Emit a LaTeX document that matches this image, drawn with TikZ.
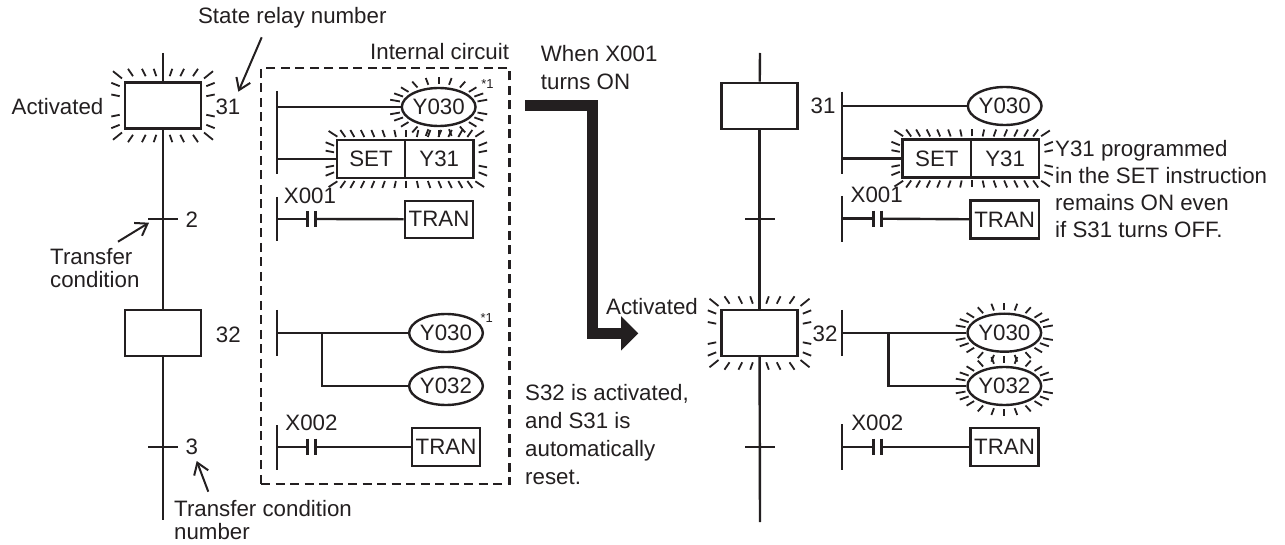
\documentclass[tikz,border=0pt]{standalone}
\usepackage{xcolor}
\usepackage{fontspec}
\setmainfont{Liberation Sans}
\usetikzlibrary{arrows.meta,positioning,calc,shapes.geometric}
\definecolor{inkDark}{RGB}{35,31,32}
\tikzset{
  wire/.style={draw=inkDark,line width=2.4pt},
  ray/.style={draw=inkDark,line width=1.8pt},
  lbl/.style={text=inkDark,inner sep=0pt,font=\fontsize{22.3}{26}\selectfont},
  statebox/.style={draw=inkDark,line width=2.4pt,minimum width=76pt,minimum height=46pt,inner sep=0pt},
  cell/.style={draw=inkDark,line width=2.4pt,text=inkDark,minimum width=68.3pt,minimum height=38pt,inner sep=0pt,font=\fontsize{22.3}{26}\selectfont},
  coil/.style={ellipse,draw=inkDark,line width=2.4pt,text=inkDark,minimum width=68pt,minimum height=38pt,inner sep=0pt,font=\fontsize{22.3}{26}\selectfont},
  pointer/.style={draw=inkDark,line width=2pt,-{Straight Barb[length=11pt,width=15pt]}},
  note/.style={lbl,align=left,anchor=west,font=\fontsize{22.3}{28}\selectfont},
}
\newcommand{\glowstate}[1]{
  \foreach \sx in {-1,1}{\foreach \sy in {-1,1}{
    \foreach \a/\b/\c/\d in {6.7/29.3/9.3/36.7,17.3/29.3/21/36.7,30/29.3/35/36.7,41/27/50/34.3,43.3/19.3/51.7/22.7,43.3/9.3/51.7/11}{
      \draw[ray] ($(#1)+(\sx*\a,\sy*\b)$) -- ($(#1)+(\sx*\c,\sy*\d)$);
    }}}}
\newcommand{\glowset}[1]{
  \foreach \sx in {-1,1}{\foreach \sy in {-1,1}{
    \foreach \a/\b/\c/\d in {0/22/0/29,10.5/22/12/29,21.5/22/24/29,32/22/35/29,42/22/45.5/29,52/22/56/29,61/22/66/29,69/22.3/77.7/28,72.3/13.3/80.7/16.7,72.3/6.7/80.7/8.3}{
      \draw[ray] ($(#1)+(\sx*\a,\sy*\b)$) -- ($(#1)+(\sx*\c,\sy*\d)$);
    }}}}
\newcommand{\glowcoil}[1]{
  \foreach \t in {14,27,41,58,75,90,105,122,139,153,166,194,207,221,238,255,270,285,302,319,333,346}{
    \draw[ray] ($(#1)+({40*cos(\t)},{23*sin(\t)})$) -- ($(#1)+({50*cos(\t)},{30*sin(\t)})$);
  }}
\newcommand{\contactbars}[1]{
  \draw[wire] ([xshift=-4pt,yshift=8pt]#1) -- ([xshift=-4pt,yshift=-8pt]#1);
  \draw[wire] ([xshift=4pt,yshift=8pt]#1) -- ([xshift=4pt,yshift=-8pt]#1);
}

\begin{document}
\begin{tikzpicture}[x=1pt,y=-1pt,>=Latex]
\useasboundingbox (0,0) rectangle (1285,545);
\node[statebox] (s31) at (163,105.5) {};
\node[statebox] (s32) at (163,333) {};
\coordinate (topL) at (163,53);
\coordinate (endL) at (163,520);
\coordinate (tickL2) at (163,219);
\coordinate (tickL3) at (163,447);
\draw[wire] (topL) -- (s31);
\draw[wire] (s31) -- (s32);
\draw[wire] (s32) -- (endL);
\draw[wire] ([xshift=-15pt]tickL2) -- ([xshift=15pt]tickL2);
\draw[wire] ([xshift=-15pt]tickL3) -- ([xshift=15pt]tickL3);
\glowstate{s31}
\node[lbl] (act1) at (57.5,106.7) {Activated};
\node[lbl] (n31) at (228,106.7) {31};
\node[lbl] (n32) at (228.3,335) {32};
\node[lbl] (n2) at (191.7,220) {2};
\node[lbl] (n3) at (191.7,447.3) {3};
\node[lbl] (relay) at (292.3,17.3) {State relay number};
\node[lbl] (inner) at (439.6,51.7) {Internal circuit};
\node[note,font=\fontsize{22.3}{23.5}\selectfont] (xfer) at (50,268) {Transfer\\condition};
\node[note,font=\fontsize{22.3}{23.5}\selectfont] (xfern) at (174,519.8) {Transfer condition\\number};
\coordinate (relayTail) at (261.7,37.3);
\coordinate (relayTip) at (238.3,91.7);
\coordinate (xferTail) at (118,241.7);
\coordinate (xferTip) at (149,222.7);
\coordinate (xfernTail) at (208.3,491.7);
\coordinate (xfernTip) at (196.7,461);
\draw[pointer] (relayTail) -- (relayTip);
\draw[pointer] (xferTail) -- (xferTip);
\draw[pointer] (xfernTail) -- (xfernTip);

\node[draw=inkDark,line width=2.2pt,dash pattern=on 9pt off 5.5pt,minimum width=248.5pt,minimum height=416pt,inner sep=0pt] (circuit) at (385.3,276.3) {};

\coordinate (ra1) at (277,91);
\coordinate (ra2) at (277,174);
\node[coil] (ya) at (438.7,107) {Y030};
\node[cell] (seta) at (371,159) {SET};
\node[cell,right=-2.4pt of seta] (y31a) {Y31};
\draw[wire] (ra1) -- (ra2);
\draw[wire] (ra1 |- ya) -- (ya);
\draw[wire] (ra1 |- seta) -- (seta);
\glowcoil{ya}
\glowset{seta.east}
\node[lbl,font=\fontsize{13}{15}\selectfont] (star1) at (487.5,84) {*1};
\node[lbl] (xa) at (310,196) {X001};
\coordinate (rb1) at (277,197);
\coordinate (rb2) at (277,241);
\coordinate (ca) at (311.3,219);
\node[cell,minimum height=37pt] (trana) at (439,219.3) {TRAN};
\draw[wire] (rb1) -- (rb2);
\draw[wire] (rb1 |- ca) -- ([xshift=-4pt]ca);
\draw[wire] ([xshift=4pt]ca) -- (trana);
\contactbars{ca}

\coordinate (rc1) at (277,310);
\coordinate (rc2) at (277,355.7);
\coordinate (brc) at (322,333);
\node[coil] (yb) at (446,333) {Y030};
\node[coil] (yc) at (446,386) {Y032};
\draw[wire] (rc1) -- (rc2);
\draw[wire] (rc1 |- yb) -- (yb);
\draw[wire] (brc) |- (yc);
\node[lbl,font=\fontsize{13}{15}\selectfont] (star2) at (486.7,318) {*1};
\node[lbl] (xb) at (311.5,422.7) {X002};
\coordinate (rd1) at (277,425);
\coordinate (rd2) at (277,470);
\coordinate (cb) at (311.3,446.7);
\node[cell] (tranb) at (446,446.7) {TRAN};
\draw[wire] (rd1) -- (rd2);
\draw[wire] (rd1 |- cb) -- ([xshift=-4pt]cb);
\draw[wire] ([xshift=4pt]cb) -- (tranb);
\contactbars{cb}

\node[note] (when) at (540.7,68) {When X001\\turns ON};
\node[note] (reset) at (525,434.5) {S32 is activated,\\and S31 is\\automatically\\reset.};
\coordinate (bigA) at (525,105.3);
\coordinate (bigB) at (592.8,105.3);
\coordinate (bigC) at (592.8,333.3);
\coordinate (bigD) at (638.3,333.3);
\draw[draw=inkDark,line width=11pt,-{Triangle[length=17.3pt,width=33.5pt]}] (bigA) -- (bigB) -- (bigC) -- (bigD);
\node[lbl] (act2) at (652,306.7) {Activated};

\node[statebox] (r31) at (759.5,105.8) {};
\node[statebox] (r32) at (759.5,333) {};
\coordinate (topR) at (760,53);
\coordinate (endR) at (760,522);
\coordinate (tickR2) at (760,219);
\coordinate (tickR3) at (760,447);
\draw[wire] (topR) -- (r31);
\draw[wire] (r31) -- (r32);
\draw[wire] (r32) -- (endR);
\draw[wire] ([xshift=-15pt]tickR2) -- ([xshift=15pt]tickR2);
\draw[wire] ([xshift=-15pt]tickR3) -- ([xshift=15pt]tickR3);
\glowstate{r32}
\node[lbl] (m31) at (823,106) {31};
\node[lbl] (m32) at (825,334.3) {32};

\coordinate (re1) at (842,91.7);
\coordinate (re2) at (842,174);
\node[coil] (yd) at (1004.7,106) {Y030};
\node[cell] (setb) at (936.8,158.5) {SET};
\node[cell,right=-2.4pt of setb] (y31b) {Y31};
\draw[wire] (re1) -- (re2);
\draw[wire] (re1 |- yd) -- (yd);
\draw[wire] (re1 |- setb) -- (setb);
\glowset{setb.east}
\node[lbl] (xc) at (876.7,195) {X001};
\coordinate (rf1) at (842,196);
\coordinate (rf2) at (842,241.7);
\coordinate (cc) at (877.5,218.7);
\node[cell] (tranc) at (1004.7,219.5) {TRAN};
\draw[wire] (rf1) -- (rf2);
\draw[wire] (rf1 |- cc) -- ([xshift=-4pt]cc);
\draw[wire] ([xshift=4pt]cc) -- (tranc);
\contactbars{cc}

\coordinate (rg1) at (842,310);
\coordinate (rg2) at (842,355.7);
\coordinate (brg) at (888.3,333);
\node[coil] (ye) at (1004.3,332.7) {Y030};
\node[coil] (yf) at (1004.3,386) {Y032};
\draw[wire] (rg1) -- (rg2);
\draw[wire] (rg1 |- ye) -- (ye);
\draw[wire] (brg) |- (yf);
\glowcoil{ye}
\glowcoil{yf}
\node[lbl] (xd) at (877.3,422.7) {X002};
\coordinate (rh1) at (842,424);
\coordinate (rh2) at (842,470);
\coordinate (cd) at (877.3,446.7);
\node[cell] (trand) at (1004.5,446.7) {TRAN};
\draw[wire] (rh1) -- (rh2);
\draw[wire] (rh1 |- cd) -- ([xshift=-4pt]cd);
\draw[wire] ([xshift=4pt]cd) -- (trand);
\contactbars{cd}

\node[note,font=\fontsize{22.3}{26.7}\selectfont] (keep) at (1055,189) {Y31 programmed\\in the SET instruction\\remains ON even\\if S31 turns OFF.};
\end{tikzpicture}
\end{document}
